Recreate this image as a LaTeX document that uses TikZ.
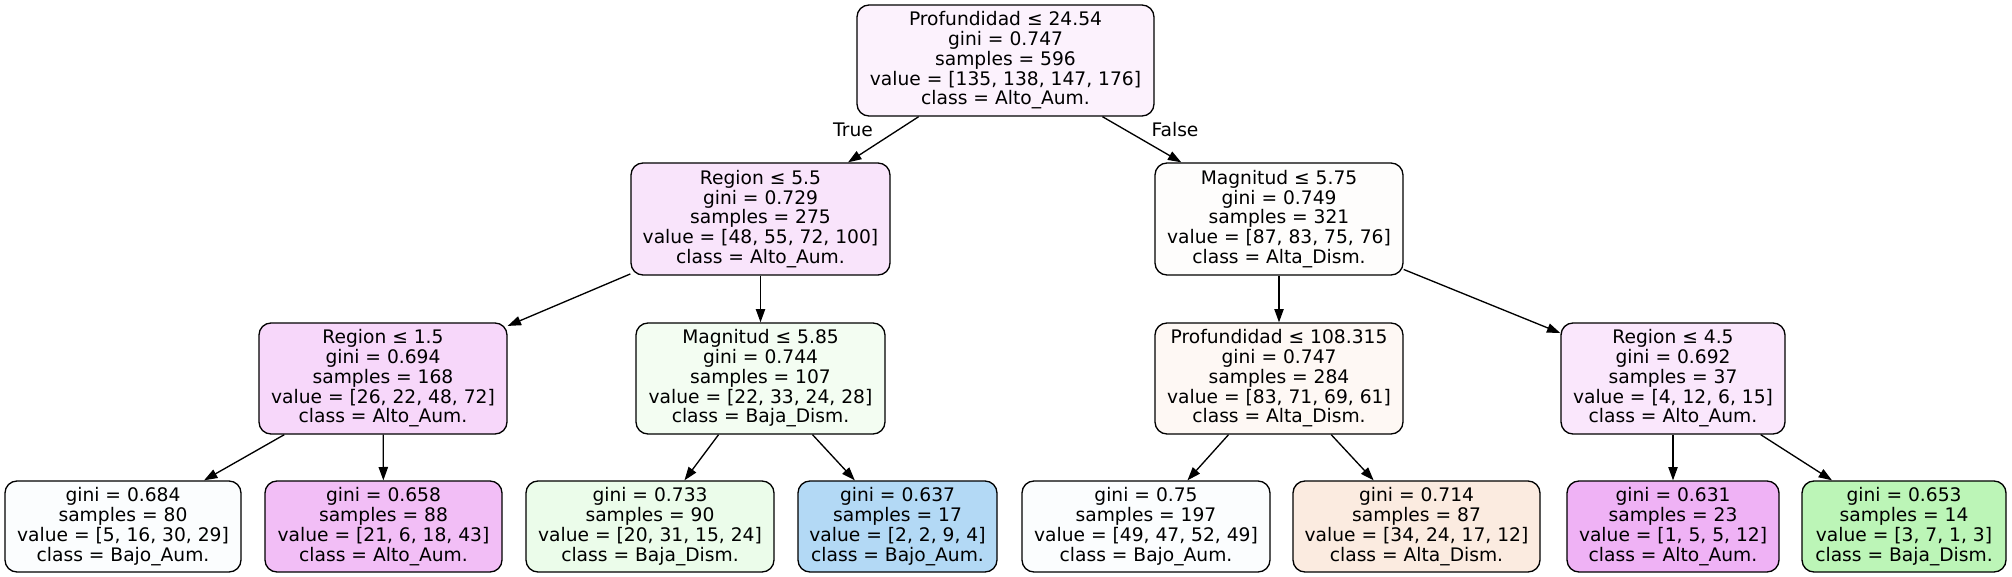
\documentclass[tikz,border=0pt]{standalone}
\usepackage{fontspec}
\setmainfont{DejaVu Sans}
\usetikzlibrary{arrows.meta}
\definecolor{cRoot}{RGB}{252,242,253}
\definecolor{cA}{RGB}{249,228,251}
\definecolor{cB}{RGB}{254,253,252}
\definecolor{cC}{RGB}{247,215,250}
\definecolor{cD}{RGB}{243,253,242}
\definecolor{cE}{RGB}{254,248,244}
\definecolor{cF}{RGB}{250,231,252}
\definecolor{cL1}{RGB}{251,253,254}
\definecolor{cL2}{RGB}{242,190,246}
\definecolor{cL3}{RGB}{235,252,234}
\definecolor{cL4}{RGB}{179,217,245}
\definecolor{cL5}{RGB}{251,253,254}
\definecolor{cL6}{RGB}{251,235,224}
\definecolor{cL7}{RGB}{239,178,245}
\definecolor{cL8}{RGB}{188,245,183}
\begin{document}
\begin{tikzpicture}[x=0.75pt,y=-0.75pt,
  tnode/.style={draw=black, line width=1pt, rounded corners=9pt, align=center, inner sep=0pt,
    font=\fontsize{14}{14.85}\selectfont},
  sz/.style n args={2}{minimum width=#1*0.75pt, minimum height=#2*0.75pt},
  edge/.style={draw=black, line width=1pt, -{Triangle[length=10pt,width=7pt]}},
  elabel/.style={font=\fontsize{14}{14.85}\selectfont, inner sep=0pt}]
\useasboundingbox (0,0) rectangle (2012,577);

\node[tnode, sz={297}{111}, fill=cRoot] (root) at (1005.5,60.5)
  {Profundidad ≤ 24.54\\gini = 0.747\\samples = 596\\value = [135, 138, 147, 176]\\class = Alto\_Aum.};
\node[tnode, sz={259}{112}, fill=cA] (n1) at (760.5,219)
  {Region ≤ 5.5\\gini = 0.729\\samples = 275\\value = [48, 55, 72, 100]\\class = Alto\_Aum.};
\node[tnode, sz={248}{112}, fill=cB] (n2) at (1279,219)
  {Magnitud ≤ 5.75\\gini = 0.749\\samples = 321\\value = [87, 83, 75, 76]\\class = Alta\_Dism.};
\node[tnode, sz={248}{111}, fill=cC] (n3) at (383,378.5)
  {Region ≤ 1.5\\gini = 0.694\\samples = 168\\value = [26, 22, 48, 72]\\class = Alto\_Aum.};
\node[tnode, sz={249}{111}, fill=cD] (n4) at (760.5,378.5)
  {Magnitud ≤ 5.85\\gini = 0.744\\samples = 107\\value = [22, 33, 24, 28]\\class = Baja\_Dism.};
\node[tnode, sz={248}{111}, fill=cE] (n5) at (1279,378.5)
  {Profundidad ≤ 108.315\\gini = 0.747\\samples = 284\\value = [83, 71, 69, 61]\\class = Alta\_Dism.};
\node[tnode, sz={224}{111}, fill=cF] (n6) at (1673,378.5)
  {Region ≤ 4.5\\gini = 0.692\\samples = 37\\value = [4, 12, 6, 15]\\class = Alto\_Aum.};

\node[tnode, sz={236}{91}, fill=cL1] (l1) at (123,526.5)
  {gini = 0.684\\samples = 80\\value = [5, 16, 30, 29]\\class = Bajo\_Aum.};
\node[tnode, sz={237}{91}, fill=cL2] (l2) at (383.5,526.5)
  {gini = 0.658\\samples = 88\\value = [21, 6, 18, 43]\\class = Alto\_Aum.};
\node[tnode, sz={248}{91}, fill=cL3] (l3) at (650,526.5)
  {gini = 0.733\\samples = 90\\value = [20, 31, 15, 24]\\class = Baja\_Dism.};
\node[tnode, sz={199}{91}, fill=cL4] (l4) at (897.5,526.5)
  {gini = 0.637\\samples = 17\\value = [2, 2, 9, 4]\\class = Bajo\_Aum.};
\node[tnode, sz={248}{91}, fill=cL5] (l5) at (1146,526.5)
  {gini = 0.75\\samples = 197\\value = [49, 47, 52, 49]\\class = Bajo\_Aum.};
\node[tnode, sz={247}{91}, fill=cL6] (l6) at (1416.5,526.5)
  {gini = 0.714\\samples = 87\\value = [34, 24, 17, 12]\\class = Alta\_Dism.};
\node[tnode, sz={212}{91}, fill=cL7] (l7) at (1673,526.5)
  {gini = 0.631\\samples = 23\\value = [1, 5, 5, 12]\\class = Alto\_Aum.};
\node[tnode, sz={204}{91}, fill=cL8] (l8) at (1904,526.5)
  {gini = 0.653\\samples = 14\\value = [3, 7, 1, 3]\\class = Baja\_Dism.};

\draw[edge] (root) -- (n1);
\draw[edge] (root) -- (n2);
\draw[edge] (n1) -- (n3);
\draw[edge] (n1) -- (n4);
\draw[edge] (n2) -- (n5);
\draw[edge] (n2) -- (n6);
\draw[edge] (n3) -- (l1);
\draw[edge] (n3) -- (l2);
\draw[edge] (n4) -- (l3);
\draw[edge] (n4) -- (l4);
\draw[edge] (n5) -- (l5);
\draw[edge] (n5) -- (l6);
\draw[edge] (n6) -- (l7);
\draw[edge] (n6) -- (l8);

\node[elabel] (tlab) at (853,130) {True};
\node[elabel] (flab) at (1175,130) {False};
\end{tikzpicture}
\end{document}
